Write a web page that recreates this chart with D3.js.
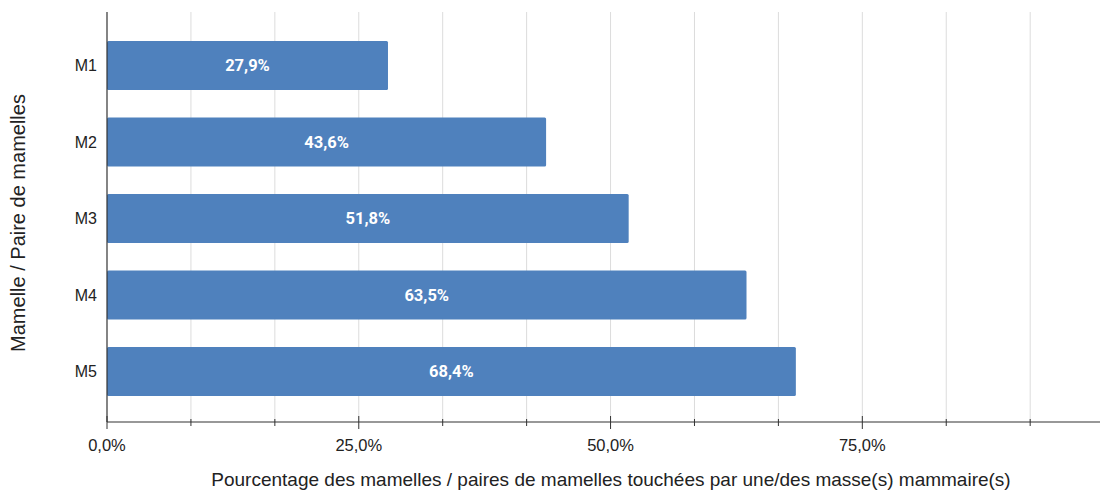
<!DOCTYPE html>
<html><head><meta charset="utf-8">
<script src="https://cdn.jsdelivr.net/npm/d3@7"></script>
<style>body{margin:0;background:#fff;} svg{display:block;}</style>
</head><body>
<svg id="c" width="1103" height="491"></svg>
<script>
const categories = ["M1","M2","M3","M4","M5"];
const values = [0.279, 0.436, 0.518, 0.635, 0.684];
const majorTicks = [0, 0.25, 0.5, 0.75];
const xTitle = "Pourcentage des mamelles / paires de mamelles touchées par une/des masse(s) mammaire(s)";
const yTitle = "Mamelle / Paire de mamelles";

(function(){
const svg = d3.select("#c");
const pl = 107, pr = 1100, pt = 12, pb = 422;
const FF = "'Liberation Sans', Arial, sans-serif";
const x = d3.scaleLinear().domain([0, 0.986]).range([pl, pr]);
const y = d3.scaleBand().domain(categories).range([27.25, 409.75]).paddingInner(0.36).paddingOuter(0.18);
const fmt = v => d3.format(".1f")(v*100).replace(".", ",") + "%";

const allTicks = d3.range(1, 12).map(i => i*0.25/3).filter(v => v <= 0.986);
svg.append("g").selectAll("line").data(allTicks).join("line")
  .attr("x1", d=>x(d)).attr("x2", d=>x(d)).attr("y1", pt).attr("y2", pb)
  .attr("stroke", "#dcdcdc").attr("stroke-width", 1);

svg.append("g").selectAll("rect").data(values).join("rect")
  .attr("x", x(0)).attr("y", (d,i)=>y(categories[i]))
  .attr("width", d=>x(d)-x(0)).attr("height", y.bandwidth())
  .attr("rx", 1.5).attr("fill", "#4f81bd");

svg.append("g").selectAll("text").data(values).join("text")
  .attr("x", d=>(x(0)+x(d))/2).attr("y", (d,i)=>y(categories[i])+y.bandwidth()/2)
  .attr("dy", "0.36em").attr("text-anchor", "middle")
  .attr("fill", "#fff").attr("font-family", "Roboto, sans-serif").attr("font-weight", "bold")
  .attr("font-size", 16.5).text(d=>fmt(d));

const gx = svg.append("g").attr("transform", `translate(0,${pb})`);
gx.append("line").attr("x1", pl).attr("x2", pr).attr("stroke", "#333").attr("stroke-width", 1.2);
gx.selectAll(".mn").data(allTicks.filter(v => !majorTicks.some(m => Math.abs(m-v)<1e-6))).join("line")
  .attr("class","mn")
  .attr("x1", d=>x(d)).attr("x2", d=>x(d)).attr("y1", -3).attr("y2", 4).attr("stroke", "#333");
gx.selectAll(".mj").data(majorTicks).join("line").attr("class","mj")
  .attr("x1", d=>x(d)).attr("x2", d=>x(d)).attr("y1", -6).attr("y2", 7).attr("stroke", "#333");
gx.selectAll("text").data(majorTicks).join("text")
  .attr("x", d=>x(d)).attr("y", 29).attr("text-anchor", "middle")
  .attr("font-family", FF).attr("font-size", 16.5).attr("fill", "#222")
  .text(d=>fmt(d));

svg.append("line").attr("x1", pl).attr("x2", pl).attr("y1", pt).attr("y2", pb)
  .attr("stroke", "#333").attr("stroke-width", 1.2);
svg.append("g").selectAll("text").data(categories).join("text")
  .attr("x", 97).attr("y", d=>y(d)+y.bandwidth()/2).attr("dy", "0.36em")
  .attr("text-anchor", "end").attr("font-family", FF)
  .attr("font-size", 16).attr("fill", "#222").text(d=>d);

svg.append("text").attr("x", 611).attr("y", 486).attr("text-anchor", "middle")
  .attr("font-family", FF).attr("font-size", 19).attr("fill", "#222")
  .text(xTitle);
svg.append("text").attr("transform", "translate(25,223) rotate(-90)").attr("text-anchor", "middle")
  .attr("font-family", FF).attr("font-size", 20).attr("fill", "#222")
  .text(yTitle);
})();
</script>
</body></html>
